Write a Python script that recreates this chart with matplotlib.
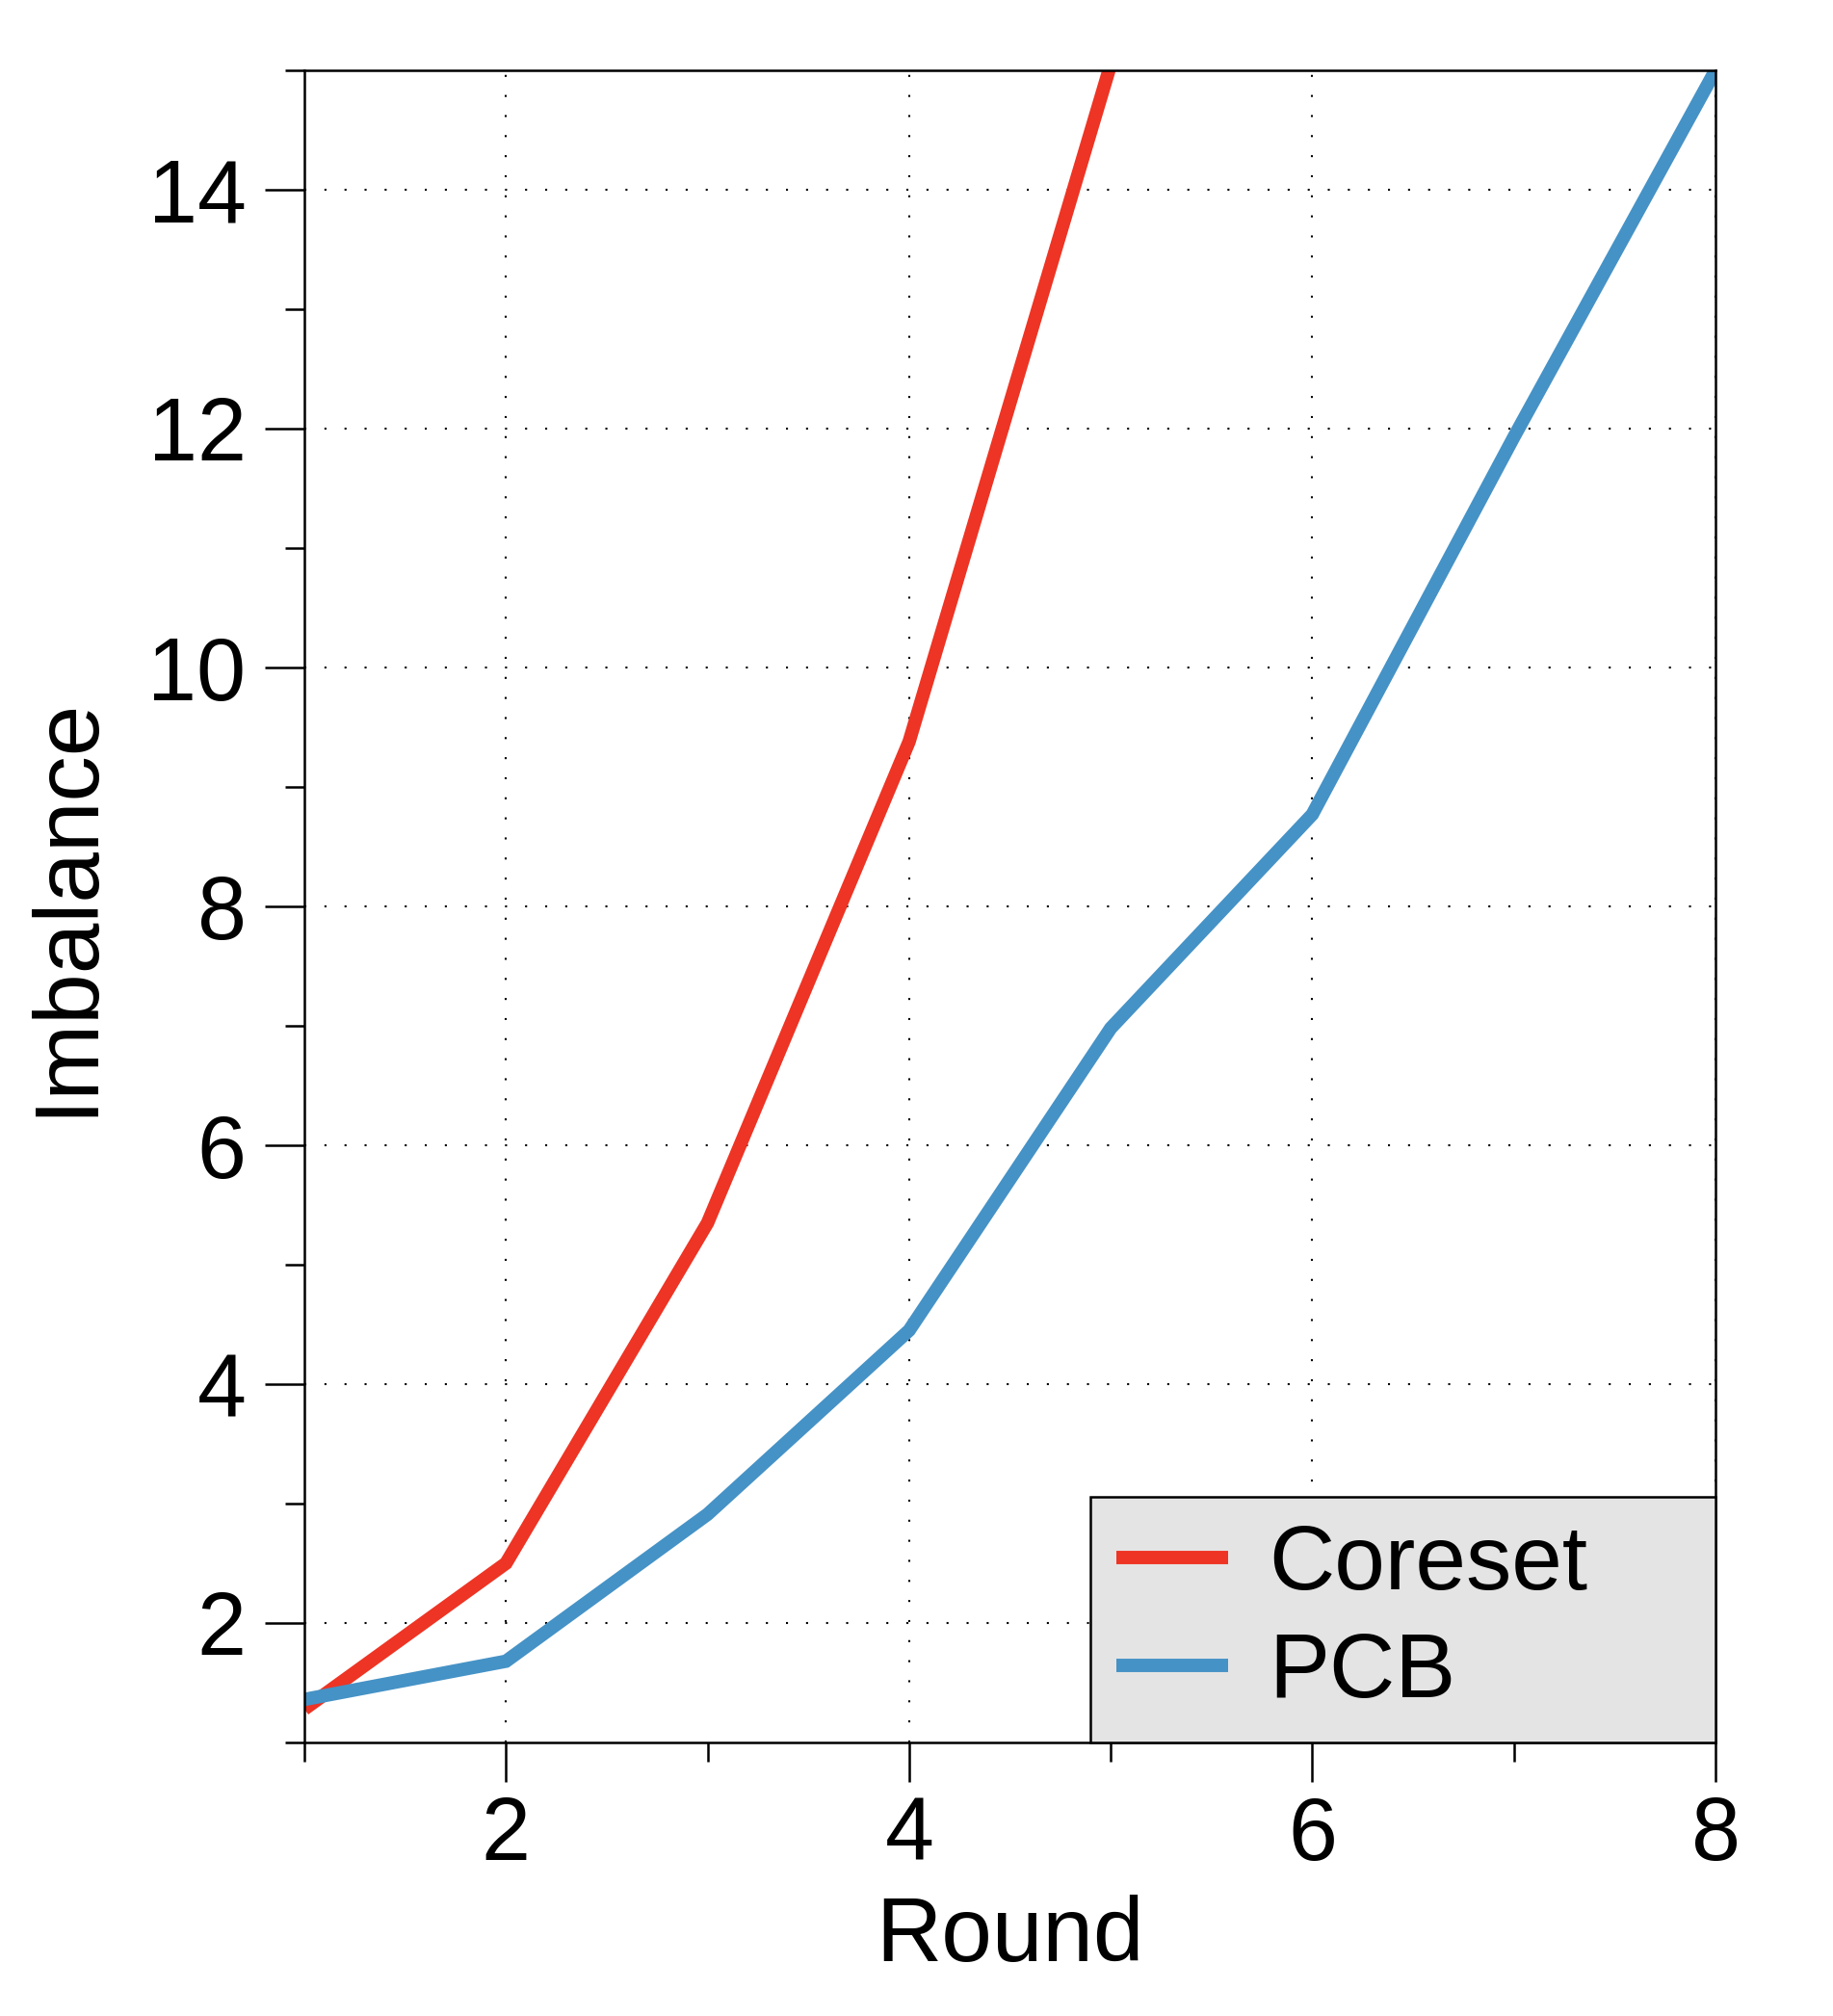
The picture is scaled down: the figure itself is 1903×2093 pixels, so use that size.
import matplotlib
matplotlib.use("Agg")
import matplotlib.pyplot as plt
from matplotlib.ticker import MultipleLocator

plt.rcParams['font.family'] = ['Liberation Sans', 'DejaVu Sans']

# data
rounds_coreset = [1, 2, 3, 4, 5]
imb_coreset = [1.28, 2.50, 5.35, 9.38, 15.05]
rounds_pcb = [1, 2, 3, 4, 5, 6, 7, 8]
imb_pcb = [1.36, 1.68, 2.91, 4.45, 6.98, 8.77, 11.93, 15.0]

RED = '#EE3424'
BLUE = '#4592C6'
FS = 66
FS_LAB = 68

fig = plt.figure(figsize=(19.03, 20.93), dpi=100)
ax = fig.add_axes([316 / 1903, 1 - 1809 / 2093, (1781 - 316) / 1903, (1809 - 73) / 2093])

ax.plot(rounds_coreset, imb_coreset, color=RED, lw=10, label='Coreset',
        solid_capstyle='butt', solid_joinstyle='miter')
ax.plot(rounds_pcb, imb_pcb, color=BLUE, lw=10, label='PCB',
        solid_capstyle='butt', solid_joinstyle='miter')

ax.set_xlim(1, 8)
ax.set_ylim(1, 15)
ax.xaxis.set_major_locator(MultipleLocator(2))
ax.xaxis.set_minor_locator(MultipleLocator(1))
ax.yaxis.set_major_locator(MultipleLocator(2))
ax.yaxis.set_minor_locator(MultipleLocator(1))

ax.grid(True, which='major', color='black', lw=1.5, linestyle=(0, (1, 9)))

ax.tick_params(which='major', direction='out', length=29.5, width=1.8,
               labelsize=FS, pad=10)
ax.tick_params(axis='y', which='major', pad=14)
ax.tick_params(which='minor', direction='out', length=14.5, width=1.8)
for s in ax.spines.values():
    s.set_linewidth(1.8)

ax.set_xlabel('Round', fontsize=FS_LAB, labelpad=12)
ax.set_ylabel('Imbalance', fontsize=FS_LAB, labelpad=28)

leg = ax.legend(loc='lower left', bbox_to_anchor=((1132 - 316) / (1781 - 316), 0,
                                                   (1781 - 1132) / (1781 - 316), 0.2),
                mode='expand', borderaxespad=0, fontsize=FS_LAB, fancybox=False,
                framealpha=1, facecolor='#E4E4E4', edgecolor='black',
                handlelength=1.22, handletextpad=0.45, borderpad=0.29,
                labelspacing=0.24)
leg.get_frame().set_linewidth(1.8)

fig.savefig('out.png', dpi=100)
